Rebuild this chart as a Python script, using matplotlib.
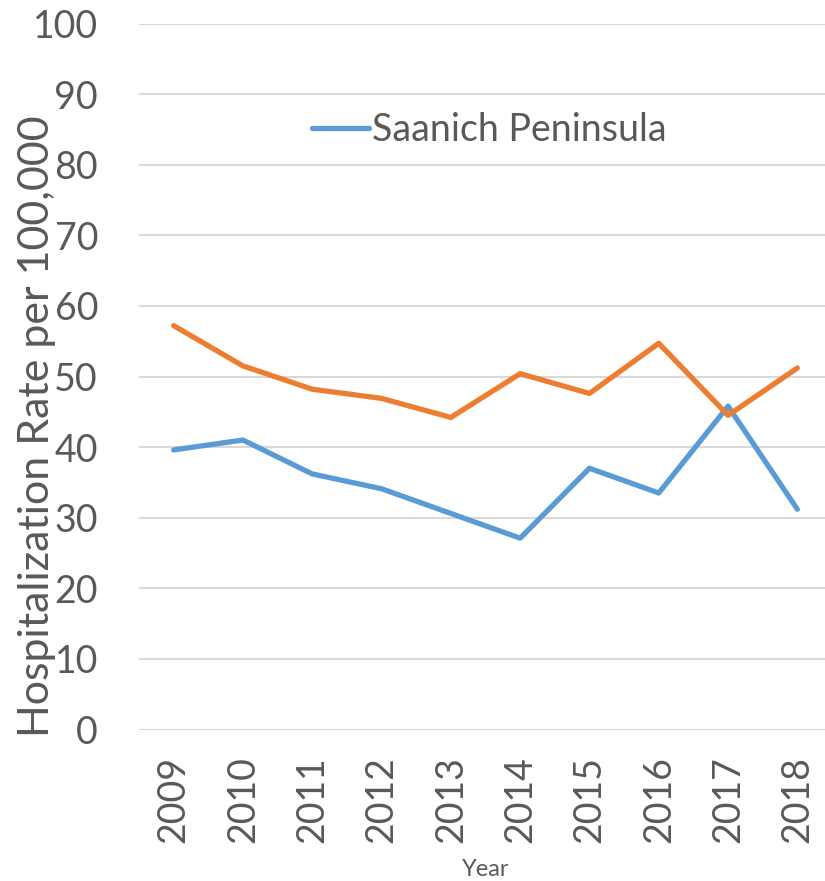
import matplotlib
matplotlib.use('Agg')
import matplotlib.pyplot as plt

years = ['2009', '2010', '2011', '2012', '2013', '2014', '2015', '2016', '2017', '2018']
saanich = [39.6, 41.0, 36.2, 34.1, 30.6, 27.1, 37.0, 33.5, 45.8, 31.2]
other = [57.2, 51.5, 48.2, 46.9, 44.2, 50.4, 47.6, 54.7, 44.5, 51.2]
yticks = [0, 10, 20, 30, 40, 50, 60, 70, 80, 90, 100]

TEXT = '#595959'
plt.rcParams['font.family'] = ['Lato', 'DejaVu Sans']

fig = plt.figure(figsize=(8.25, 8.81), dpi=100)
ax = fig.add_axes([139 / 825, 1 - 729.5 / 881, 693 / 825, 706 / 881])

x = range(len(years))
ax.plot(x, saanich, color='#5B9BD5', lw=3.8, solid_capstyle='round',
        solid_joinstyle='round', label='Saanich Peninsula', clip_on=False)
ax.plot(x, other, color='#ED7D31', lw=3.8, solid_capstyle='round',
        solid_joinstyle='round', clip_on=False)

ax.set_xlim(-0.5, len(years) - 0.5)
ax.set_ylim(0, 100)
ax.set_yticks(yticks)
ax.set_xticks(list(x))
ax.set_xticklabels(years, rotation=90)
ax.tick_params(axis='both', length=0, labelsize=27, colors=TEXT)
ax.tick_params(axis='y', pad=29.5)
ax.tick_params(axis='x', pad=19)

ax.grid(axis='y', color='#D9D9D9', lw=1.5)
ax.set_axisbelow(True)
for s in ax.spines.values():
    s.set_visible(False)

# y title sits a bit below the axis centre, like the original
fig.text(56 / 825, 1 - 426 / 881, 'Hospitalization Rate per 100,000',
         fontsize=31, color=TEXT, rotation=90, ha='right', va='center')
fig.text(486 / 825, 1 - 869 / 881, 'Year', fontsize=17, color=TEXT,
         ha='center', va='center')

leg = ax.legend(loc='center', bbox_to_anchor=(0.506, 0.849), frameon=False,
                fontsize=27, handlelength=1.5, handletextpad=0.1,
                labelcolor=TEXT)

fig.savefig('out.png', dpi=100)
